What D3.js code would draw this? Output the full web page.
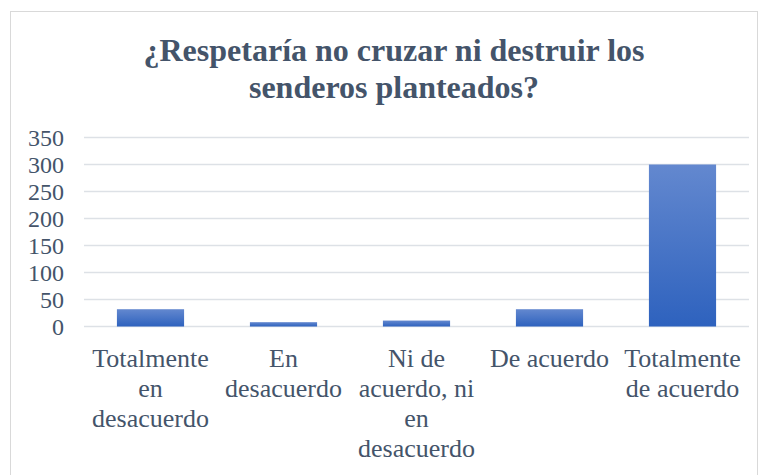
<!DOCTYPE html>
<html>
<head>
<meta charset="utf-8">
<script src="https://cdn.jsdelivr.net/npm/d3@7"></script>
<style>
  html, body { margin: 0; padding: 0; background: #ffffff; }
  svg { display: block; }
</style>
</head>
<body>
<script>
// ---- Data ----
const titleLines = ["¿Respetaría no cruzar ni destruir los", "senderos planteados?"];
const categories = ["Totalmente en desacuerdo", "En desacuerdo", "Ni de acuerdo, ni en desacuerdo", "De acuerdo", "Totalmente de acuerdo"];
const categoryLabelLines = [
  ["Totalmente", "en", "desacuerdo"],
  ["En", "desacuerdo"],
  ["Ni de", "acuerdo, ni", "en", "desacuerdo"],
  ["De acuerdo"],
  ["Totalmente", "de acuerdo"]
];
const values = [32, 8, 11, 32, 300];
const yTicks = [0, 50, 100, 150, 200, 250, 300, 350];

// ---- Layout ----
const W = 765, H = 475;
const plot = { left: 84, right: 749, top: 137.5, bottom: 326.5 };
const textColor = "#44546A";
const serif = "'Liberation Serif', 'Times New Roman', serif";

const svg = d3.select("body").append("svg").attr("width", W).attr("height", H);

// chart border
svg.append("rect")
  .attr("x", 10.5).attr("y", 11.5).attr("width", 747).attr("height", 480)
  .attr("fill", "#ffffff").attr("stroke", "#D9D9D9").attr("stroke-width", 1);

// gradient for bars
const defs = svg.append("defs");
const grad = defs.append("linearGradient").attr("id", "barGrad")
  .attr("x1", 0).attr("y1", 0).attr("x2", 0).attr("y2", 1);
grad.append("stop").attr("offset", "0%").attr("stop-color", "#6388CF");
grad.append("stop").attr("offset", "100%").attr("stop-color", "#2E62BE");

// title
svg.append("text")
  .attr("x", 394).attr("y", 61)
  .attr("text-anchor", "middle")
  .attr("font-family", serif).attr("font-weight", "bold").attr("font-size", 32)
  .attr("fill", textColor)
  .selectAll("tspan").data(titleLines).join("tspan")
  .attr("x", 394).attr("dy", (d, i) => i === 0 ? 0 : 37)
  .text(d => d);

// scales
const x = d3.scaleBand().domain(categories).range([plot.left, plot.right]).paddingInner(0.495).paddingOuter(0.2475);
const y = d3.scaleLinear().domain([0, 350]).range([plot.bottom, plot.top]);

// gridlines
svg.append("g").selectAll("line").data(yTicks).join("line")
  .attr("x1", plot.left).attr("x2", plot.right)
  .attr("y1", d => y(d)).attr("y2", d => y(d))
  .attr("stroke", "#DDE1E6").attr("stroke-width", 1.6);

// y axis labels
const yAxis = d3.axisLeft(y).tickValues(yTicks).tickSize(0).tickPadding(0).tickFormat(d3.format("d"));
const yg = svg.append("g").attr("transform", `translate(64,0)`).call(yAxis);
yg.select(".domain").remove();
yg.selectAll("text")
  .attr("font-family", serif).attr("font-size", 24)
  .attr("fill", textColor).attr("dy", "0.34em").attr("x", 0);

// bars
svg.append("g").selectAll("rect").data(values).join("rect")
  .attr("x", (d, i) => x(categories[i]))
  .attr("width", x.bandwidth())
  .attr("y", d => y(d))
  .attr("height", d => y(0) - y(d))
  .attr("fill", "url(#barGrad)");

// x axis labels
const xAxis = d3.axisBottom(x).tickSize(0).tickFormat("");
const xg = svg.append("g").attr("transform", `translate(0,${plot.bottom})`).call(xAxis);
xg.select(".domain").remove();
xg.selectAll(".tick").each(function(d, i) {
  const t = d3.select(this).append("text")
    .attr("text-anchor", "middle")
    .attr("font-family", serif).attr("font-size", 26)
    .attr("fill", textColor)
    .attr("y", 40);
  t.selectAll("tspan").data(categoryLabelLines[i]).join("tspan")
    .attr("x", 0).attr("dy", (s, j) => j === 0 ? 0 : 30)
    .text(s => s);
});
</script>
</body>
</html>
